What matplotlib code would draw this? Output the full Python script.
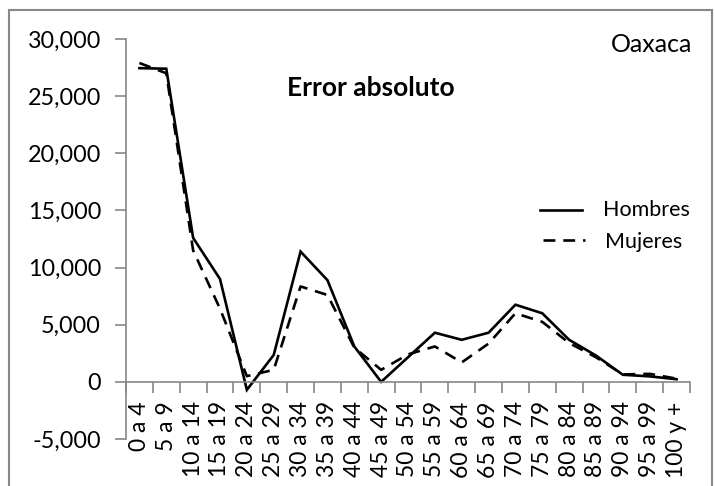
import matplotlib
matplotlib.use("Agg")
import matplotlib.pyplot as plt
from matplotlib.ticker import FuncFormatter, FixedLocator, NullFormatter
from matplotlib.patches import Rectangle
from matplotlib.lines import Line2D

plt.rcParams['font.family'] = ['Lato', 'DejaVu Sans']
plt.rcParams['axes.unicode_minus'] = False

grupos = ["0 a 4", "5 a 9", "10 a 14", "15 a 19", "20 a 24", "25 a 29", "30 a 34",
          "35 a 39", "40 a 44", "45 a 49", "50 a 54", "55 a 59", "60 a 64", "65 a 69",
          "70 a 74", "75 a 79", "80 a 84", "85 a 89", "90 a 94", "95 a 99", "100 y +"]
hombres = [27450, 27400, 12600, 9000, -700, 2350, 11400, 8900, 3100, 0, 2150,
           4300, 3680, 4300, 6750, 6000, 3680, 2300, 620, 480, 230]
mujeres = [27900, 27000, 11500, 6400, 500, 1050, 8350, 7600, 3000, 1050, 2400,
           3100, 1700, 3350, 6000, 5250, 3400, 2150, 650, 700, 280]

W, H = 715, 486
fig = plt.figure(figsize=(W / 100, H / 100), dpi=100)
ax = fig.add_axes([126 / W, (H - 439) / H, (690 - 126) / W, (439 - 39) / H])

gris = "#878787"
x = [i + 0.5 for i in range(len(grupos))]
ax.plot(x, hombres, color="black", lw=1.9, solid_joinstyle="miter")
ax.plot(x, mujeres, color="black", lw=1.9, dashes=(4.5, 3))

ax.set_xlim(0, len(grupos))
ax.set_ylim(-5000, 30000)
ax.set_yticks(range(-5000, 30001, 5000))
ax.yaxis.set_major_formatter(FuncFormatter(lambda v, p: f"{int(v):,}"))

# ticks en los limites de cada grupo, etiquetas en el centro
ax.xaxis.set_major_locator(FixedLocator(range(len(grupos) + 1)))
ax.xaxis.set_major_formatter(NullFormatter())
ax.xaxis.set_minor_locator(FixedLocator(x))
ax.xaxis.set_minor_formatter(FuncFormatter(lambda v, p: grupos[int(v)]))
ax.tick_params(axis="x", which="minor", length=0, pad=14, labelsize=16.5, labelrotation=90)
ax.tick_params(axis="x", which="major", direction="out", length=8, color=gris, width=1.2)
ax.tick_params(axis="y", direction="out", length=8, color=gris, width=1.2, labelsize=16.8, pad=10)

for s in ["top", "right"]:
    ax.spines[s].set_visible(False)
ax.spines["bottom"].set_position(("data", 0))
for s in ["left", "bottom"]:
    ax.spines[s].set_color(gris)
    ax.spines[s].set_linewidth(1.2)

fig.text(371 / W, 1 - 88 / H, "Error absoluto", ha="center", va="center",
         fontsize=19, fontweight="bold")
fig.text(692 / W, 1 - 45 / H, "Oaxaca", ha="right", va="center", fontsize=18)

# leyenda
fig.add_artist(Line2D([540 / W, 582 / W], [1 - 210 / H] * 2, color="black", lw=1.9))
fig.add_artist(Line2D([543 / W, 585 / W], [1 - 240 / H] * 2, color="black", lw=1.9,
                      dashes=(4.5, 3)))
fig.text(603 / W, 1 - 210 / H, "Hombres", ha="left", va="center", fontsize=15.5)
fig.text(605 / W, 1 - 242 / H, "Mujeres", ha="left", va="center", fontsize=15.5)

fig.add_artist(Rectangle((9 / W, -0.05), (712 - 9) / W, 1.05 - 10 / H,
                         transform=fig.transFigure, fill=False, edgecolor=gris, lw=1.5))

fig.savefig("out.png", dpi=100)
